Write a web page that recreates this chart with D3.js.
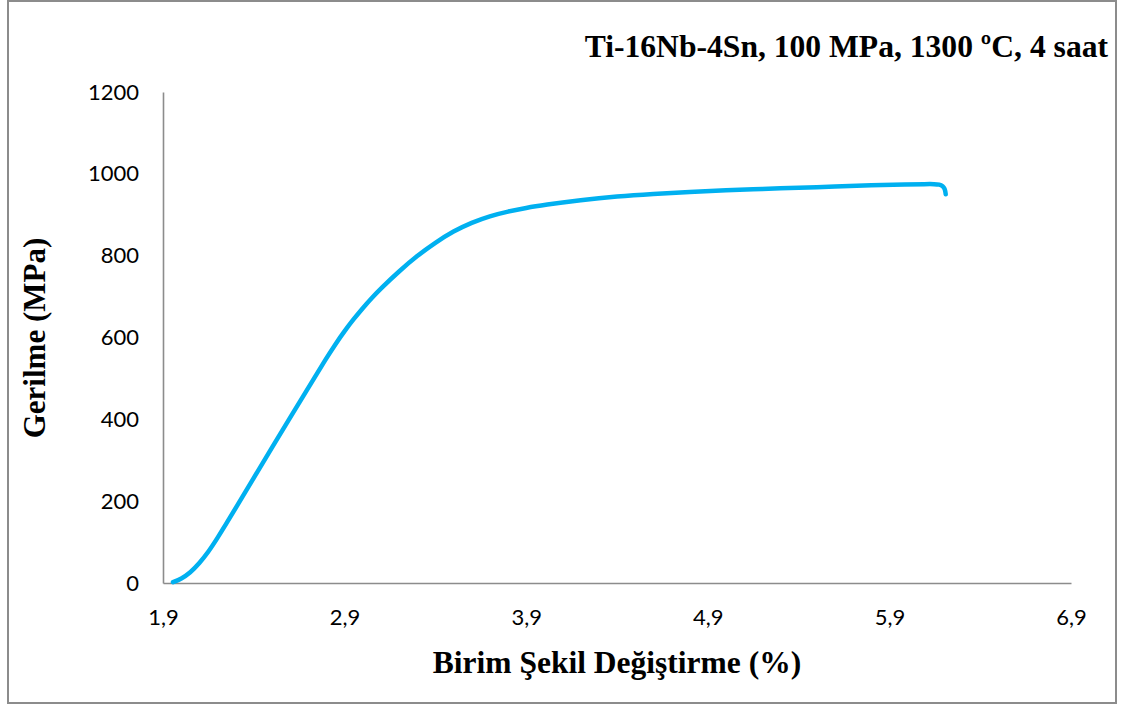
<!DOCTYPE html>
<html>
<head>
<meta charset="utf-8">
<script src="https://cdn.jsdelivr.net/npm/d3@7"></script>
<style>
  html, body { margin: 0; padding: 0; background: #fff; }
  svg { display: block; }
</style>
</head>
<body>
<svg id="chart" width="1123" height="713"></svg>
<script>
// Stress–strain curve: strain (%) and stress (MPa)
const strain = [1.955, 2.0, 2.05, 2.1, 2.15, 2.2, 2.25, 2.3, 2.4, 2.5, 2.6, 2.7, 2.8, 2.85, 2.9, 2.95, 3.0, 3.05, 3.1, 3.2, 3.3, 3.4, 3.5, 3.6, 3.7, 3.8, 3.9, 4.0, 4.2, 4.4, 4.6, 4.8, 5.0, 5.2, 5.4, 5.6, 5.8, 6.0, 6.1, 6.15, 6.175, 6.195, 6.204, 6.208, 6.21];
const stress = [2, 10, 25, 48, 76, 110, 146, 183, 257, 331, 404, 477, 550, 584, 616, 645, 672, 697, 720, 762, 800, 832, 860, 881, 897, 908, 917, 924, 936, 945, 951, 956, 960, 963, 966, 969, 972, 974, 975, 975, 974, 970, 964, 957, 950];

const xTicks = [1.9, 2.9, 3.9, 4.9, 5.9, 6.9];
const yTicks = [0, 200, 400, 600, 800, 1000, 1200];

const titleText = "Ti-16Nb-4Sn, 100 MPa, 1300 ºC, 4 saat";
const xTitle = "Birim Şekil Değiştirme (%)";
const yTitle = "Gerilme (MPa)";

const svg = d3.select("#chart");
const plotL = 163, plotR = 1071, plotT = 92, plotB = 583;

const x = d3.scaleLinear().domain([1.9, 6.9]).range([plotL, plotR]);
const y = d3.scaleLinear().domain([0, 1200]).range([plotB, plotT]);

// outer frame
svg.append("rect")
  .attr("x", 8).attr("y", 1).attr("width", 1108).attr("height", 702)
  .attr("fill", "none").attr("stroke", "#8c8c8c").attr("stroke-width", 2);

const fmt = v => d3.format(".1f")(v).replace(".", ",");

// x axis
const xAxis = svg.append("g").attr("transform", `translate(0,${plotB})`)
  .call(d3.axisBottom(x).tickValues(xTicks).tickSize(0).tickPadding(26).tickFormat(fmt));
// y axis
const yAxis = svg.append("g").attr("transform", `translate(${plotL},0)`)
  .call(d3.axisLeft(y).tickValues(yTicks).tickSize(0).tickPadding(24).tickFormat(d3.format("d")));

[xAxis, yAxis].forEach(g => {
  g.select(".domain").attr("stroke", "#8c8c8c").attr("stroke-width", 1.6);
  g.selectAll("text").attr("fill", "#000")
    .style("font-family", "Lato, 'Open Sans', sans-serif").style("font-size", "22px");
});

// curve
svg.append("path")
  .datum(strain.map((s, i) => [s, stress[i]]))
  .attr("fill", "none").attr("stroke", "#00b0f0").attr("stroke-width", 4.5)
  .attr("stroke-linecap", "round").attr("stroke-linejoin", "round")
  .attr("d", d3.line().x(d => x(d[0])).y(d => y(d[1])).curve(d3.curveBasis));

// titles
const serif = "'Liberation Serif', 'Times New Roman', serif";
svg.append("text").attr("x", 1108).attr("y", 57).attr("text-anchor", "end")
  .style("font-family", serif).style("font-weight", "bold").style("font-size", "31.6px")
  .text(titleText);

svg.append("text").attr("x", 617).attr("y", 673).attr("text-anchor", "middle")
  .style("font-family", serif).style("font-weight", "bold").style("font-size", "31.5px")
  .text(xTitle);

svg.append("text").attr("transform", "translate(45,338) rotate(-90)").attr("text-anchor", "middle")
  .style("font-family", serif).style("font-weight", "bold").style("font-size", "31px")
  .text(yTitle);
</script>
</body>
</html>
